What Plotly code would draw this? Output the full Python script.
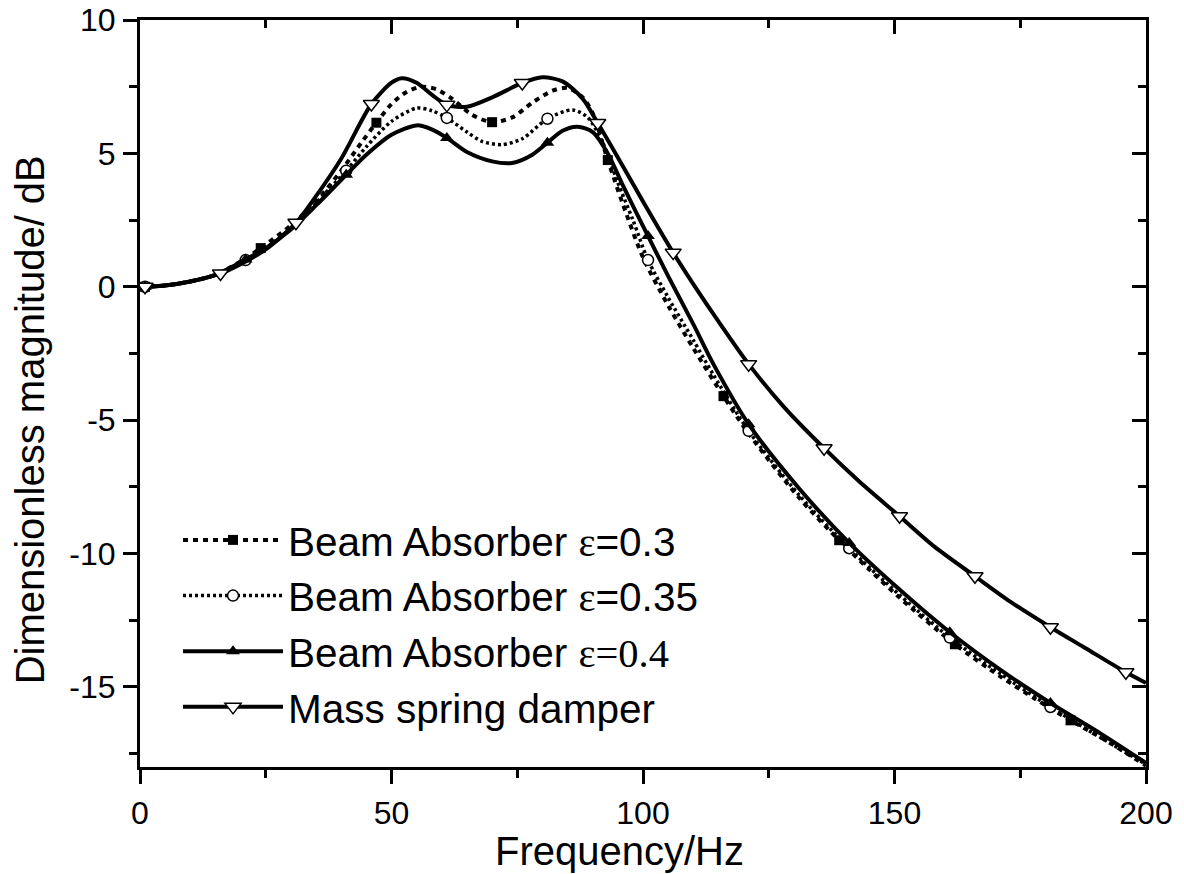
import plotly.graph_objects as go

# ---------------- data ----------------
freq_msd = [0, 1, 5, 10, 16, 20, 25, 31, 35, 40, 46, 50, 52, 55, 58, 61, 65, 70, 76, 80,
            84, 88, 91, 95, 100, 106, 110, 115, 121, 128, 136, 143, 151, 158, 166, 173,
            181, 188, 196, 200]
mag_msd = [0, 0, 0.05, 0.2, 0.5, 0.85, 1.4, 2.4, 3.4, 4.8, 6.85, 7.65, 7.82, 7.65, 7.2,
           6.82, 6.75, 7.1, 7.64, 7.85, 7.7, 7.05, 6.14, 4.85, 3.2, 1.28, 0.1, -1.3, -2.9,
           -4.5, -6.05, -7.3, -8.6, -9.75, -10.85, -11.8, -12.76, -13.55, -14.45, -14.85]
mk_msd = [1, 16, 31, 46, 61, 76, 91, 106, 121, 136, 151, 166, 181, 196]

freq_e30 = [0, 1, 5, 10, 15, 20, 24, 30, 35, 40, 44, 47, 50, 53, 56, 59, 62, 66, 70, 74,
            78, 82, 85, 88, 90, 93, 96, 100, 105, 110, 116, 121, 131, 139, 145, 151, 162,
            171, 178, 185, 192, 200]
mag_e30 = [0, 0, 0.05, 0.2, 0.45, 0.95, 1.45, 2.3, 3.2, 4.35, 5.4, 6.15, 6.85, 7.3, 7.5,
           7.4, 7.05, 6.45, 6.17, 6.35, 6.9, 7.35, 7.45, 7.1, 6.5, 4.75, 3.1, 1.1, -0.7,
           -2.3, -4.1, -5.5, -7.9, -9.5, -10.6, -11.65, -13.4, -14.6, -15.45, -16.25,
           -17.0, -17.95]
mk_e30 = [1, 24, 47, 70, 93, 116, 139, 162, 185]

freq_e35 = [0, 1, 5, 10, 15, 21, 25, 30, 35, 41, 45, 50, 55, 58, 61, 65, 68, 72, 76, 81,
            86, 89, 92, 95, 98, 101, 105, 110, 114, 121, 131, 141, 151, 161, 171, 181,
            191, 200]
mag_e35 = [0, 0, 0.05, 0.2, 0.45, 1.0, 1.45, 2.2, 3.15, 4.35, 5.25, 6.2, 6.7, 6.6, 6.33,
           5.8, 5.45, 5.33, 5.55, 6.3, 6.63, 6.35, 5.4, 3.9, 2.5, 1.0, -0.4, -2.0, -3.3,
           -5.4, -7.8, -9.8, -11.55, -13.15, -14.5, -15.75, -16.9, -17.9]
mk_e35 = [1, 21, 41, 61, 81, 101, 121, 141, 161, 181]

freq_e40 = [0, 1, 5, 10, 15, 21, 25, 30, 35, 41, 45, 50, 55, 58, 61, 65, 70, 74, 78, 81,
            84, 87, 90, 93, 96, 101, 105, 110, 114, 121, 131, 141, 151, 161, 171, 181,
            191, 200]
mag_e40 = [0, 0, 0.05, 0.2, 0.45, 1.02, 1.45, 2.15, 3.05, 4.2, 4.95, 5.7, 6.05, 5.9, 5.58,
           5.05, 4.7, 4.64, 4.95, 5.4, 5.85, 6.0, 5.8, 5.0, 3.8, 1.9, 0.4, -1.4, -2.9,
           -5.15, -7.55, -9.6, -11.35, -12.95, -14.35, -15.6, -16.75, -17.85]
mk_e40 = [1, 21, 41, 61, 81, 101, 121, 141, 161, 181]

x_ticks = [0, 50, 100, 150, 200]
x_ticktext = ["0", "50", "100", "150", "200"]
y_ticks = [-15, -10, -5, 0, 5, 10]
y_ticktext = ["-15", "-10", "-5", "0", "5", "10"]

names = ["Beam Absorber <span style='font-family:Liberation Serif'>ε</span>=0.3",
         "Beam Absorber <span style='font-family:Liberation Serif'>ε</span>=0.35",
         "Beam Absorber <span style='font-family:Liberation Serif'>ε=0.4</span>",
         "Mass spring damper"]

FONT = "Liberation Sans, Arial, sans-serif"

series = [
    (freq_e30, mag_e30, mk_e30, dict(color="black", width=4, dash="5px,5px"),
     dict(symbol="square", size=10, color="black", line=dict(width=0))),
    (freq_e35, mag_e35, mk_e35, dict(color="black", width=3.5, dash="3px,3px"),
     dict(symbol="circle", size=11, color="white", line=dict(width=1.5, color="black"))),
    (freq_e40, mag_e40, mk_e40, dict(color="black", width=4),
     dict(symbol="triangle-up", size=12, color="black", line=dict(width=0))),
    (freq_msd, mag_msd, mk_msd, dict(color="black", width=4),
     dict(symbol="triangle-down", size=14, color="white", line=dict(width=1.5, color="black"))),
]

fig = go.Figure()
for (fx, fy, mk, ln, mkst), nm in zip(series, names):
    lookup = dict(zip(fx, fy))
    fig.add_trace(go.Scatter(x=fx, y=fy, mode="lines", line=dict(shape="spline", smoothing=0.8, **ln),
                             showlegend=False, hoverinfo="skip"))
    fig.add_trace(go.Scatter(x=mk, y=[lookup[v] for v in mk], mode="markers", marker=mkst,
                             showlegend=False))
    fig.add_trace(go.Scatter(x=[None], y=[None], mode="lines+markers", name=nm,
                             line=ln, marker=mkst, showlegend=True))

# dummy trace to activate mirrored axes with inward ticks
fig.add_trace(go.Scatter(x=[None], y=[None], xaxis="x2", yaxis="y2", showlegend=False,
                         hoverinfo="skip"))

axis_common = dict(showgrid=False, zeroline=False, showline=True, linecolor="black",
                   linewidth=3, tickwidth=3, tickcolor="black", ticklen=14, automargin=False,
                   ticklabeloverflow="allow",
                   tickfont=dict(family=FONT, size=32, color="black"))

fig.update_layout(
    width=1184, height=874,
    margin=dict(l=140, r=38, t=20, b=107, autoexpand=False),
    paper_bgcolor="white", plot_bgcolor="white",
    font=dict(family=FONT, color="black"),
    xaxis=dict(range=[0, 200], tickmode="array", tickvals=x_ticks, ticktext=x_ticktext,
               ticks="outside", mirror=True, ticklabelstandoff=2,
               minor=dict(dtick=25, tick0=0, ticks="outside", ticklen=8, tickwidth=3,
                          tickcolor="black", showgrid=False),
               **axis_common),
    yaxis=dict(range=[-18, 10], tickmode="array", tickvals=y_ticks, ticktext=y_ticktext,
               ticks="outside", mirror=True, ticklabelstandoff=1,
               minor=dict(dtick=2.5, tick0=0, ticks="outside", ticklen=8, tickwidth=3,
                          tickcolor="black", showgrid=False),
               **axis_common),
    xaxis2=dict(range=[0, 200], overlaying="x", side="top", anchor="y", ticks="inside",
                tickmode="array", tickvals=x_ticks, showticklabels=False, showgrid=False,
                zeroline=False, showline=False, ticklen=14, tickwidth=3, tickcolor="black",
                automargin=False,
                minor=dict(dtick=25, tick0=0, ticks="inside", ticklen=8, tickwidth=3,
                           tickcolor="black", showgrid=False)),
    yaxis2=dict(range=[-18, 10], overlaying="y", side="right", anchor="x", ticks="inside",
                tickmode="array", tickvals=y_ticks, showticklabels=False, showgrid=False,
                zeroline=False, showline=False, ticklen=14, tickwidth=3, tickcolor="black",
                automargin=False,
                minor=dict(dtick=2.5, tick0=0, ticks="inside", ticklen=8, tickwidth=3,
                           tickcolor="black", showgrid=False)),
    legend=dict(x=0.0378, y=0.192, xanchor="left", yanchor="middle", bgcolor="rgba(0,0,0,0)",
                font=dict(family=FONT, size=40.5, color="black"), itemwidth=100,
                tracegroupgap=0),
    annotations=[
        dict(text="Frequency/Hz", xref="paper", yref="paper", x=0.477, y=-0.113,
             xanchor="center", yanchor="middle", showarrow=False,
             font=dict(family=FONT, size=40, color="black")),
        dict(text="Dimensionless magnitude/ dB", xref="paper", yref="paper", x=-0.109,
             y=0.4645, xanchor="center", yanchor="middle", textangle=-90, showarrow=False,
             font=dict(family=FONT, size=40, color="black")),
    ],
)

fig.write_html("out.html", config={"displayModeBar": False},
               post_script="document.body.style.margin='0';document.body.style.padding='0';")
